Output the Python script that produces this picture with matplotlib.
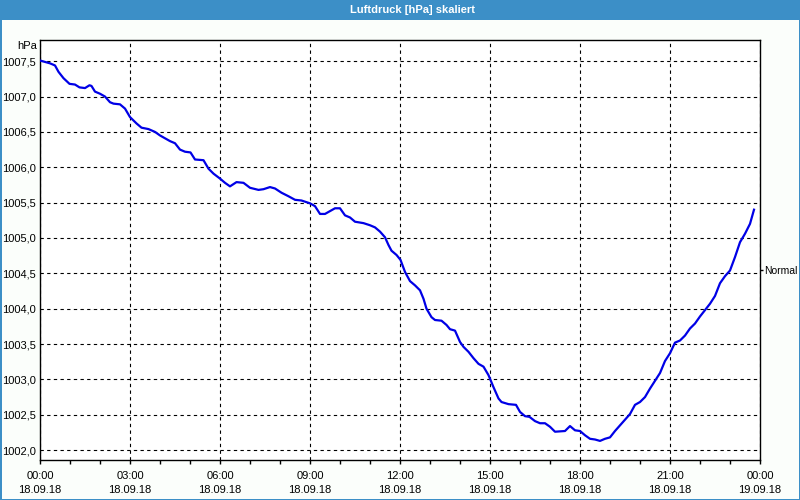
import matplotlib
matplotlib.use("Agg")
import matplotlib.pyplot as plt
import matplotlib.dates as mdates
from matplotlib.patches import Rectangle
import datetime as dt

# ---- data ----
title = "Luftdruck [hPa] skaliert"
unit = "hPa"
start = dt.datetime(2018, 9, 18, 0, 0)
end = dt.datetime(2018, 9, 19, 0, 0)
minutes = [0, 10, 20, 30, 37, 47, 59, 70, 79, 90, 99, 103, 110, 120, 130, 140, 147, 160,
           170, 180, 193, 203, 217, 230, 240, 250, 260, 270, 280, 290, 301, 310, 327, 337,
           347, 360, 370, 380, 393, 407, 420, 437, 447, 460, 470, 483, 497, 510, 523, 540,
           550, 560, 570, 580, 590, 600, 610, 620, 630, 647, 660, 670, 680, 690, 697, 703,
           713, 721, 730, 740, 750, 760, 767, 773, 783, 790, 803, 813, 820, 830, 840, 847,
           857, 867, 877, 887, 897, 907, 917, 923, 937, 952, 960, 970, 979, 990, 1000, 1010,
           1020, 1030, 1050, 1060, 1070, 1080, 1090, 1100, 1110, 1120, 1130, 1140, 1150,
           1160, 1170, 1180, 1190, 1200, 1210, 1220, 1230, 1240, 1250, 1260, 1270, 1280,
           1290, 1300, 1310, 1320, 1330, 1340, 1350, 1360, 1370, 1380, 1390, 1400, 1410,
           1420, 1428]
pressure = [1007.51, 1007.49, 1007.47, 1007.44, 1007.35, 1007.26, 1007.18, 1007.17, 1007.13,
            1007.12, 1007.16, 1007.15, 1007.07, 1007.04, 1007.00, 1006.92, 1006.90, 1006.89,
            1006.83, 1006.71, 1006.62, 1006.56, 1006.54, 1006.50, 1006.45, 1006.41, 1006.37,
            1006.34, 1006.25, 1006.22, 1006.21, 1006.11, 1006.10, 1005.98, 1005.91, 1005.84,
            1005.78, 1005.73, 1005.79, 1005.78, 1005.71, 1005.68, 1005.69, 1005.72, 1005.70,
            1005.64, 1005.59, 1005.54, 1005.53, 1005.49, 1005.45, 1005.34, 1005.34, 1005.38,
            1005.42, 1005.42, 1005.32, 1005.29, 1005.23, 1005.21, 1005.18, 1005.15, 1005.09,
            1005.01, 1004.90, 1004.82, 1004.76, 1004.69, 1004.52, 1004.39, 1004.33, 1004.26,
            1004.14, 1004.00, 1003.88, 1003.84, 1003.83, 1003.77, 1003.71, 1003.69, 1003.53,
            1003.46, 1003.39, 1003.30, 1003.22, 1003.18, 1003.06, 1002.89, 1002.73, 1002.68,
            1002.65, 1002.64, 1002.54, 1002.48, 1002.47, 1002.41, 1002.38, 1002.38, 1002.33,
            1002.26, 1002.27, 1002.34, 1002.28, 1002.27, 1002.21, 1002.16, 1002.15, 1002.13,
            1002.16, 1002.18, 1002.27, 1002.35, 1002.43, 1002.51, 1002.64, 1002.68, 1002.75,
            1002.87, 1002.98, 1003.09, 1003.26, 1003.37, 1003.52, 1003.55, 1003.62, 1003.72,
            1003.79, 1003.89, 1003.98, 1004.07, 1004.18, 1004.36, 1004.46, 1004.54, 1004.73,
            1004.94, 1005.06, 1005.20, 1005.40]
y_ticks = [1002.0, 1002.5, 1003.0, 1003.5, 1004.0, 1004.5, 1005.0, 1005.5,
           1006.0, 1006.5, 1007.0, 1007.5]
y_min, y_max = 1001.86, 1007.80
normal_value = 1004.55
normal_label = "Normal"

times = [start + dt.timedelta(minutes=m) for m in minutes]

# ---- figure ----
plt.rcParams["font.family"] = ["Liberation Sans", "DejaVu Sans"]
FS = 8
bg = "#fbfefb"
bar_col = "#3c8fc7"
fig = plt.figure(figsize=(8, 5), dpi=100, facecolor=bg)

# title bar and border
fig.patches.append(Rectangle((0, 1 - 20 / 500), 1, 20 / 500, transform=fig.transFigure,
                             facecolor=bar_col, edgecolor="none", zorder=0))
fig.patches.append(Rectangle((0, 0), 1.5 / 800, 1, transform=fig.transFigure,
                             facecolor=bar_col, edgecolor="none", zorder=0))
fig.patches.append(Rectangle((1 - 1.5 / 800, 0), 1.5 / 800, 1, transform=fig.transFigure,
                             facecolor=bar_col, edgecolor="none", zorder=0))
fig.patches.append(Rectangle((0, 0), 1, 1.5 / 500, transform=fig.transFigure,
                             facecolor=bar_col, edgecolor="none", zorder=0))
fig.text(412 / 800, 1 - 10 / 500, title, color="white", fontsize=FS, fontweight="bold",
         ha="center", va="center")

ax = fig.add_axes([40 / 800, 40 / 500, 720 / 800, 420 / 500])
ax.set_facecolor("white")
ax.plot(times, pressure, color="#0000e6", linewidth=1.6, zorder=3)

ax.set_xlim(start, end)
ax.set_ylim(y_min, y_max)
ax.set_yticks(y_ticks)
ax.set_yticklabels([f"{v:.1f}".replace(".", ",") for v in y_ticks], fontsize=FS)
ax.tick_params(axis="y", length=0, pad=3)

ax.xaxis.set_major_locator(mdates.HourLocator(byhour=range(0, 24, 3)))
ax.xaxis.set_major_formatter(mdates.DateFormatter("%H:%M\n%d.%m.%y"))
ax.xaxis.set_minor_locator(mdates.HourLocator())
ax.tick_params(axis="x", which="major", length=3, width=1, labelsize=FS, pad=5)
ax.tick_params(axis="x", which="minor", length=3, width=1)
for lbl in ax.get_xticklabels():
    lbl.set_linespacing(1.5)

ax.grid(True, which="major", color="black", linestyle=(0, (3, 3)), linewidth=0.8)
for s in ax.spines.values():
    s.set_color("black")
    s.set_linewidth(1.0)

ax.text(-3 / 720, 1 - 6 / 420, unit, transform=ax.transAxes, ha="right", va="center",
        fontsize=FS)

# right-hand "Normal" marker
axr = ax.twinx()
axr.set_ylim(y_min, y_max)
axr.set_yticks([normal_value])
axr.set_yticklabels([normal_label], fontsize=7.5)
axr.tick_params(axis="y", length=2.5, width=1, pad=0.5)
for s in axr.spines.values():
    s.set_visible(False)

fig.savefig("out.png", dpi=100, facecolor=bg)
